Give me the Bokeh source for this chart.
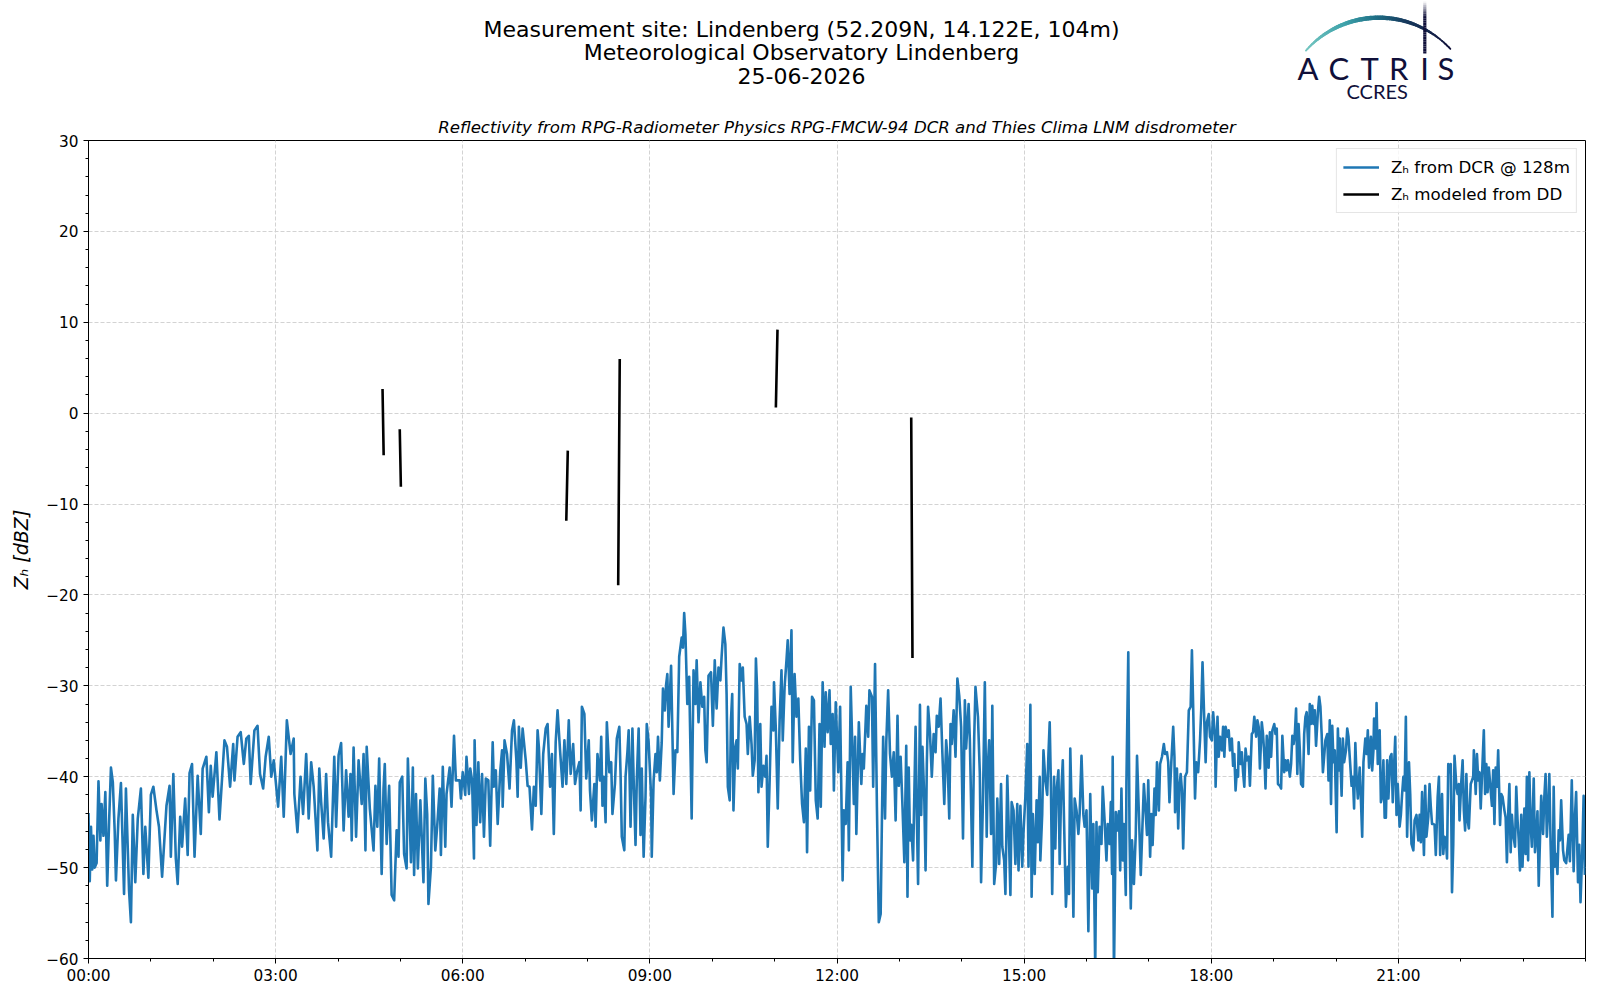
import math
from datetime import datetime, timedelta
import numpy as np
from bokeh.plotting import figure
from bokeh.models import (Range1d, FixedTicker, DatetimeTickFormatter, Legend,
                          LegendItem, ColumnDataSource)
from bokeh.layouts import column
from bokeh.embed import file_html
from bokeh.resources import INLINE
from bokeh.core.properties import value

# ---------------- data (hours after 00:00 UTC, dBZ) ----------------
TITLE_LINES = ["Measurement site: Lindenberg (52.209N, 14.122E, 104m)",
               "Meteorological Observatory Lindenberg",
               "25-06-2026"]
SUBTITLE = "Reflectivity from RPG-Radiometer Physics RPG-FMCW-94 DCR and Thies Clima LNM disdrometer"
LABEL_DCR = "Z\u2095 from DCR @ 128m"
LABEL_DD = "Z\u2095 modeled from DD"
Y_LABEL = "Z\u2095 [dBZ]"
X_TICK_HOURS = [0, 3, 6, 9, 12, 15, 18, 21]
Y_TICKS = [-60, -50, -40, -30, -20, -10, 0, 10, 20, 30]

dcr_hours = [
    0.00,0.02,0.04,0.06,0.08,0.10,0.13,0.16,0.19,0.21,
    0.24,0.27,0.30,0.33,0.36,0.39,0.42,0.44,0.48,0.52,
    0.57,0.60,0.65,0.68,0.71,0.75,0.79,0.84,0.88,0.91,
    0.96,1.00,1.04,1.09,1.13,1.18,1.25,1.30,1.32,1.36,
    1.40,1.43,1.47,1.50,1.55,1.59,1.62,1.66,1.70,1.75,
    1.80,1.83,1.89,1.93,1.96,1.99,2.05,2.10,2.18,2.22,
    2.27,2.32,2.34,2.39,2.44,2.49,2.53,2.57,2.60,2.66,
    2.71,2.75,2.80,2.84,2.89,2.93,2.97,3.04,3.09,3.13,
    3.18,3.24,3.29,3.30,3.35,3.40,3.44,3.49,3.53,3.57,
    3.61,3.67,3.70,3.73,3.77,3.81,3.84,3.89,3.94,3.97,
    4.01,
    4.05,4.09,4.13,4.17,4.20,4.22,4.25,4.29,4.33,4.38,
    4.41,4.44,4.46,4.51,4.57,4.60,4.63,4.66,4.70,4.73,
    4.75,4.78,4.82,4.86,4.90,4.94,4.97,4.99,5.03,5.06,
    5.10,5.12,5.17,5.20,5.22,5.25,5.28,5.32,5.37,5.40,
    5.43,5.45,5.49,5.52,5.56,5.59,5.63,5.65,5.68,5.72,
    5.74,5.79,5.82,5.86,5.89,5.95,5.97,6.00,6.04,6.06,
    6.10,6.12,6.15,6.18,6.19,6.22,6.25,6.28,6.31,6.34,
    6.37,6.41,6.44,6.48,6.50,6.53,6.56,6.60,6.63,6.64,
    6.67,6.71,6.75,6.79,6.82,6.86,6.88,6.90,6.93,6.96,
    7.01,7.04,7.07,7.11,7.14,7.17,7.20,7.22,7.26,7.29,
    7.33,7.36,7.40,7.43,7.46,7.49,7.52,7.56,7.60,7.63,
    7.66,7.70,7.73,7.77,7.80,7.83,7.87,7.89,7.91,7.95,
    7.98,8.02,8.04,
    8.07,8.11,8.13,8.16,8.20,8.22,8.24,8.26,8.29,8.31,
    8.35,8.38,8.40,8.44,8.47,8.51,8.53,8.55,8.59,8.61,
    8.64,8.66,8.69,8.72,8.74,8.77,8.79,8.82,8.85,8.87,
    8.90,8.93,8.95,8.98,9.02,9.03,9.06,9.09,9.11,9.13,
    9.16,9.19,9.21,9.24,9.26,9.28,9.30,9.34,9.38,9.41,
    9.44,9.47,9.51,9.53,9.55,9.57,9.60,9.63,9.67,9.70,
    9.73,9.75,9.78,9.81,9.84,9.87,9.89,9.91,9.94,9.98,
    10.01,10.04,10.07,10.10,10.13,10.15,10.18,10.21,10.23,10.25,
    10.28,10.30,10.32,10.34,10.37,10.39,10.41,10.44,10.47,10.49,
    10.52,10.55,10.57,10.60,10.63,10.65,10.68,10.70,10.72,10.74,
    10.77,10.79,10.82,10.85,10.87,10.89,10.92,10.95,10.98,10.99,
    11.02,11.05,11.08,11.11,11.13,11.16,11.19,11.21,11.24,11.27,
    11.29,11.32,11.35,11.38,11.41,11.44,11.47,11.50,11.52,11.55,
    11.57,11.60,11.63,11.66,11.69,11.72,11.74,11.77,11.80,11.82,
    11.85,11.88,11.90,11.93,11.95,11.98,12.02,
    12.05,12.09,12.11,12.14,12.17,12.19,12.22,12.25,12.27,12.29,
    12.31,12.35,12.39,12.41,12.43,12.47,12.50,12.52,12.56,12.58,
    12.61,12.64,12.67,12.70,12.72,12.74,12.77,12.79,12.82,12.85,
    12.88,12.91,12.94,12.97,12.99,13.02,13.05,13.08,13.11,13.13,
    13.15,13.17,13.19,13.22,13.26,13.28,13.30,13.33,13.35,13.37,
    13.40,13.42,13.44,13.46,13.49,13.52,13.55,13.58,13.60,13.63,
    13.66,13.69,13.72,13.75,13.77,13.80,13.82,13.84,13.87,13.90,
    13.93,13.96,13.99,14.02,14.05,14.07,14.11,14.13,14.17,14.20,
    14.22,14.26,14.29,14.31,14.34,14.37,14.40,14.42,14.44,14.47,
    14.49,14.52,14.55,14.57,14.60,14.63,14.65,14.68,14.70,14.73,
    14.75,14.78,14.80,14.83,14.86,14.89,14.91,14.94,14.97,14.99,
    15.02,15.05,15.07,15.10,15.12,15.14,15.17,15.20,15.22,15.25,
    15.26,15.29,15.31,15.34,15.37,15.39,15.41,15.43,15.45,15.48,
    15.50,15.52,15.55,15.57,15.59,15.62,15.64,15.67,15.70,15.72,
    15.74,15.77,15.79,15.81,15.84,15.87,15.89,15.92,15.95,15.97,
    16.00,16.03,
    16.06,16.09,16.11,16.14,16.16,16.18,16.21,16.24,16.26,16.29,
    16.32,16.34,16.37,16.39,16.41,16.42,16.44,16.47,16.50,16.52,
    16.54,16.56,16.58,16.60,16.63,16.64,16.67,16.69,16.71,16.73,
    16.76,16.79,16.81,16.84,16.87,16.90,16.92,16.95,16.97,16.99,
    17.02,17.04,17.06,17.09,17.11,17.13,17.16,17.18,17.21,17.24,
    17.26,17.29,17.31,17.33,17.36,17.39,17.41,17.42,17.45,17.47,
    17.49,17.51,17.53,17.55,17.58,17.61,17.64,17.67,17.69,17.71,
    17.74,17.76,17.79,17.82,17.84,17.86,17.89,17.91,17.93,17.96,
    17.98,18.01,18.03,18.06,18.07,18.10,18.12,18.14,18.17,18.19,
    18.21,18.23,18.26,18.28,18.30,18.33,18.35,18.37,18.39,18.41,
    18.43,18.44,18.47,18.49,18.51,18.53,18.55,18.57,18.60,18.62,
    18.65,18.67,18.69,18.72,18.74,18.76,18.78,18.81,18.83,18.85,
    18.87,18.89,18.92,18.94,18.96,18.98,19.01,19.03,19.05,19.07,
    19.10,19.12,19.14,19.17,19.19,19.21,19.23,19.26,19.28,19.30,
    19.32,19.34,19.36,19.38,19.40,19.42,19.44,19.47,19.49,19.51,
    19.53,19.56,19.58,19.60,19.62,19.64,19.66,19.68,19.71,19.73,
    19.75,19.77,19.79,19.81,19.83,19.86,19.88,19.90,19.92,19.94,
    19.96,19.98,20.01,
    20.03,20.05,20.06,20.09,20.11,20.13,20.16,20.18,20.20,20.22,
    20.25,20.27,20.29,20.31,20.33,20.35,20.38,20.40,20.42,20.44,
    20.47,20.49,20.51,20.53,20.56,20.58,20.60,20.61,20.64,20.65,
    20.67,20.70,20.72,20.74,20.76,20.78,20.80,20.82,20.84,20.87,
    20.89,20.91,20.93,20.95,20.97,20.99,21.02,21.04,21.06,21.08,
    21.10,21.12,21.14,21.17,21.19,21.21,21.24,21.26,21.29,21.32,
    21.34,21.36,21.38,21.41,21.43,21.45,21.48,21.50,21.52,21.54,
    21.56,21.58,21.60,21.63,21.65,21.67,21.70,21.72,21.74,21.76,
    21.78,21.80,21.82,21.84,21.86,21.88,21.90,21.93,21.95,21.97,
    21.98,22.01,22.03,22.05,22.07,22.09,22.11,22.13,22.16,22.18,
    22.20,22.21,22.24,22.26,22.28,22.30,22.32,22.34,22.37,22.39,
    22.41,22.43,22.45,22.48,22.50,22.52,22.54,22.56,22.58,22.60,
    22.63,22.65,22.67,22.70,22.72,22.74,22.76,22.78,22.80,22.82,
    22.84,22.87,22.89,22.91,22.93,22.95,22.97,22.99,23.02,23.04,
    23.06,23.08,23.10,23.12,23.14,23.17,23.19,23.21,23.23,23.25,
    23.27,23.29,23.32,23.34,23.36,23.38,23.40,23.42,23.44,23.47,
    23.49,23.51,23.53,23.55,23.57,23.59,23.61,23.64,23.66,23.69,
    23.73,23.75,23.78,23.81,23.83,23.85,23.88,23.90,23.92,23.95,
    23.97,23.99,
]

dcr_dbz = [
    -44.0,-51.5,-45.5,-50.2,-46.5,-50.0,-49.5,-40.5,-47.0,-43.0,
    -46.5,-41.7,-52.0,-45.0,-39.0,-40.6,-46.0,-51.4,-44.6,-40.7,
    -52.9,-41.3,-52.5,-56.0,-44.2,-51.6,-44.6,-41.3,-50.7,-45.5,
    -51.1,-42.0,-41.1,-43.7,-45.5,-51.0,-43.2,-41.0,-48.8,-39.7,
    -49.0,-51.8,-44.4,-47.7,-42.4,-48.6,-39.6,-38.6,-48.8,-39.9,
    -46.3,-39.1,-37.8,-43.9,-38.8,-42.2,-37.3,-44.7,-36.0,-36.7,
    -41.1,-36.4,-40.4,-35.6,-35.1,-38.6,-35.8,-35.5,-40.8,-34.9,
    -34.4,-39.7,-41.3,-37.8,-35.6,-40.0,-38.2,-43.3,-37.8,-44.4,
    -33.8,-37.5,-35.8,-41.9,-46.1,-40.0,-44.1,-37.5,-44.6,-38.4,
    -41.1,-48.1,-39.1,-42.8,-46.8,-39.7,-45.0,-48.8,-37.8,-45.5,
    -37.6,
    -36.3,-45.9,-39.3,-44.4,-39.7,-47.0,-36.8,-46.6,-38.2,-43.0,
    -37.5,-48.1,-36.7,-43.5,-48.1,-41.0,-45.5,-38.0,-50.7,-41.3,
    -38.6,-47.4,-41.0,-53.0,-53.6,-45.9,-48.8,-40.6,-40.0,-48.5,
    -50.1,-38.0,-49.4,-39.0,-50.8,-41.9,-50.1,-42.6,-51.6,-40.2,
    -44.1,-54.0,-49.9,-39.9,-48.1,-45.5,-41.3,-48.6,-38.9,-47.7,
    -41.9,-39.0,-43.3,-35.5,-40.4,-40.4,-42.4,-39.5,-42.0,-37.8,
    -41.9,-39.1,-40.4,-49.0,-36.0,-45.3,-38.4,-45.0,-39.7,-46.6,
    -40.2,-40.4,-47.6,-36.2,-41.1,-39.3,-45.2,-39.5,-37.1,-43.3,
    -36.0,-37.5,-41.3,-34.9,-33.8,-38.2,-42.2,-34.5,-39.0,-34.7,
    -38.2,-41.0,-41.1,-45.8,-41.1,-43.2,-34.9,-36.7,-44.1,-37.5,
    -34.7,-34.2,-41.1,-37.5,-46.3,-36.2,-32.7,-37.1,-41.1,-36.0,
    -40.8,-33.8,-39.7,-36.4,-40.8,-39.5,-38.4,-43.7,-32.3,-33.1,
    -40.2,-36.0,-41.5,
    -44.8,-40.8,-45.5,-37.5,-40.4,-35.6,-43.2,-40.0,-45.0,-34.0,
    -39.5,-38.4,-44.1,-40.8,-35.8,-34.5,-39.7,-46.6,-48.1,-40.0,
    -37.3,-34.9,-45.5,-34.7,-40.4,-47.5,-40.4,-34.7,-46.4,-39.1,
    -48.8,-42.2,-34.2,-36.2,-42.2,-48.8,-40.4,-37.5,-39.5,-35.6,
    -40.4,-36.2,-30.3,-32.7,-29.9,-28.7,-34.5,-27.8,-41.9,-37.1,
    -37.3,-26.8,-24.7,-25.8,-22.0,-24.3,-32.0,-29.0,-44.6,-28.3,
    -32.0,-27.2,-34.0,-29.6,-32.3,-31.2,-37.1,-38.4,-28.9,-28.5,
    -34.4,-27.2,-32.5,-28.0,-29.4,-26.8,-23.6,-25.4,-30.9,-41.1,
    -42.6,-33.8,-30.9,-43.7,-36.7,-36.0,-39.1,-27.6,-29.4,-28.0,
    -33.4,-34.2,-37.5,-33.4,-36.4,-39.9,-38.2,-27.0,-30.5,-41.7,
    -34.2,-41.1,-38.8,-40.0,-37.7,-47.7,-40.4,-32.3,-34.9,-29.6,
    -34.9,-43.5,-33.8,-28.3,-36.0,-30.1,-27.2,-25.0,-30.9,-23.9,
    -38.4,-28.7,-33.4,-31.4,-38.2,-43.0,-45.0,-36.9,-48.3,-34.5,
    -41.5,-31.2,-31.6,-42.6,-44.6,-34.2,-43.3,-29.6,-36.7,-30.7,
    -35.1,-30.5,-36.4,-33.1,-41.5,-31.8,-39.5,
    -32.3,-51.4,-43.7,-45.2,-38.4,-48.1,-30.1,-37.8,-43.0,-35.6,
    -46.3,-34.0,-40.8,-37.5,-39.1,-32.2,-35.6,-30.5,-31.2,-41.1,
    -27.6,-43.3,-56.0,-55.1,-44.8,-35.6,-44.6,-36.2,-30.5,-37.5,
    -40.0,-37.3,-44.8,-33.3,-41.0,-37.8,-43.3,-49.4,-36.6,-53.2,
    -39.0,-47.0,-45.3,-49.2,-34.5,-44.4,-51.8,-32.1,-44.2,-36.7,
    -42.6,-50.3,-38.6,-32.3,-35.1,-40.0,-35.3,-37.3,-33.3,-34.5,
    -31.4,-37.5,-43.0,-36.0,-37.8,-44.6,-34.2,-36.4,-32.7,-37.8,
    -29.2,-31.1,-34.5,-46.8,-31.6,-36.9,-32.0,-36.0,-49.9,-35.6,
    -30.1,-33.4,-39.7,-51.6,-42.6,-29.6,-46.6,-38.6,-36.0,-46.3,
    -32.2,-51.8,-49.6,-42.4,-49.6,-40.8,-47.7,-49.2,-52.9,-39.9,
    -44.8,-53.0,-42.8,-43.7,-49.6,-43.0,-50.3,-43.2,-49.9,-46.1,
    -42.2,-36.4,-49.9,-32.1,-53.2,-44.1,-50.7,-42.6,-47.2,-40.0,
    -49.2,-44.1,-37.1,-40.4,-42.0,-37.5,-34.0,-41.1,-52.9,-40.0,
    -47.9,-41.5,-39.3,-49.6,-42.6,-38.2,-44.8,-54.3,-49.9,-52.9,
    -36.9,-46.3,-55.4,-42.4,-43.7,-46.3,-44.1,-37.7,-44.2,-45.5,
    -43.7,-57.0,
    -41.9,-52.3,-45.2,-61.0,-45.0,-52.7,-45.5,-47.4,-41.1,-44.8,
    -49.2,-45.2,-47.4,-42.8,-50.7,-37.8,-62.0,-43.9,-45.9,-43.8,
    -50.3,-41.3,-49.2,-45.2,-53.0,-40.6,-26.3,-46.6,-54.5,-47.0,
    -51.8,-46.3,-37.7,-44.1,-50.8,-44.8,-40.8,-44.1,-46.4,-40.4,
    -48.8,-44.1,-47.5,-41.3,-44.2,-38.4,-43.7,-38.6,-37.8,-36.4,
    -37.5,-37.3,-38.4,-42.8,-38.4,-34.5,-37.8,-43.9,-39.1,-45.7,
    -41.1,-39.7,-41.5,-47.9,-40.0,-39.5,-32.7,-32.3,-26.1,-32.3,
    -42.4,-38.4,-39.5,-36.0,-32.5,-27.4,-34.2,-38.4,-34.0,-33.1,
    -35.6,-36.0,-32.9,-35.5,-41.1,-33.4,-37.8,-35.6,-37.1,-34.5,
    -37.8,-34.5,-35.6,-34.9,-37.1,-35.8,-38.8,-37.5,-41.5,-39.3,
    -40.0,-36.2,-38.6,-37.3,-39.5,-41.1,-36.9,-38.2,-37.8,-41.0,
    -35.3,-35.1,-33.4,-35.6,-33.8,-34.5,-39.1,-34.0,-35.3,-37.5,
    -41.3,-35.5,-39.0,-35.1,-37.8,-34.9,-34.2,-35.3,-34.7,-40.8,
    -41.0,-41.3,-35.5,-39.5,-38.2,-39.3,-38.2,-40.0,-38.6,-35.5,
    -36.4,-35.3,-32.5,-39.7,-34.2,-37.1,-40.8,-41.1,-35.3,-33.4,
    -32.9,-37.5,-32.0,-34.2,-32.2,-34.2,-32.7,-36.6,-32.9,-31.2,
    -32.3,-35.3,-39.5,-37.8,-36.0,-35.3,-40.4,-33.8,-43.0,-34.4,
    -38.4,-37.1,-46.1,
    -34.7,-39.3,-35.8,-42.1,-35.8,-38.4,-37.1,-34.7,-35.6,-37.8,
    -41.0,-40.0,-43.5,-36.3,-40.0,-42.4,-39.0,-42.6,-46.6,-38.4,
    -35.8,-37.5,-34.9,-39.0,-35.6,-39.3,-37.1,-33.6,-36.9,-31.9,
    -38.6,-34.9,-42.8,-42.2,-38.2,-44.5,-44.5,-38.2,-42.4,-37.8,
    -37.5,-42.8,-39.0,-35.6,-44.2,-40.8,-45.5,-44.2,-41.9,-40.0,
    -41.5,-33.4,-46.6,-38.4,-41.9,-47.4,-48.1,-44.8,-44.2,-47.0,
    -44.2,-47.2,-41.7,-48.6,-41.0,-46.6,-44.4,-40.8,-43.3,-45.2,
    -45.2,-45.3,-48.6,-42.2,-40.0,-48.6,-41.9,-48.5,-46.6,-46.8,
    -49.0,-38.6,-39.5,-38.6,-52.7,-47.4,-37.7,-41.1,-41.9,-40.8,
    -44.8,-40.4,-38.2,-43.7,-45.9,-39.7,-44.8,-45.7,-40.8,-40.4,
    -40.0,-37.1,-41.9,-37.5,-40.4,-39.5,-43.5,-40.0,-34.9,-41.9,
    -38.6,-41.7,-39.0,-41.5,-43.2,-39.3,-45.2,-39.0,-41.1,-37.1,
    -45.3,-41.9,-42.2,-43.7,-44.5,-49.4,-44.2,-40.8,-48.3,-44.2,
    -46.3,-47.7,-41.1,-44.7,-47.0,-50.3,-44.2,-49.9,-43.5,-48.5,
    -40.0,-49.2,-39.5,-45.2,-47.7,-40.2,-48.3,-46.6,-43.8,-52.0,
    -47.0,-42.1,-46.3,-42.2,-39.7,-46.6,-43.8,-39.7,-47.2,-55.4,
    -41.1,-49.9,-48.5,-50.7,-45.9,-47.0,-42.6,-48.1,-49.2,-49.5,
    -46.4,-49.3,-40.4,-50.4,-44.5,-41.7,-51.6,-47.5,-53.8,-47.8,
    -42.1,-50.8,
]

# disdrometer-modelled reflectivity: pairs of (start, end) points per rain event
dd_hours = [4.714, 4.732, 4.990, 5.008, 7.660, 7.684, 8.492, 8.517, 11.020, 11.046, 13.190, 13.210]
dd_dbz = [2.65, -4.63, -1.76, -8.09, -11.84, -4.12, -18.93, 5.96, 0.63, 9.19, -0.48, -26.95]

# ---------------- helpers ----------------
BASE = datetime(2026, 6, 25)
EPOCH = datetime(1970, 1, 1)


def to_dt(h):
    return BASE + timedelta(hours=h)


def to_ms(h):
    return (to_dt(h) - EPOCH).total_seconds() * 1000.0


n = min(len(dcr_hours), len(dcr_dbz))
dcr_src = ColumnDataSource(dict(t=[to_dt(h) for h in dcr_hours[:n]], z=dcr_dbz[:n]))

dd_t, dd_z = [], []
for i in range(0, len(dd_hours), 2):
    dd_t += [to_dt(dd_hours[i]), to_dt(dd_hours[i + 1]), to_dt(dd_hours[i + 1])]
    dd_z += [dd_dbz[i], dd_dbz[i + 1], np.nan]
dd_src = ColumnDataSource(dict(t=dd_t, z=np.array(dd_z, dtype=float)))

FONT = "DejaVu Sans"
W = 1592
HH = 110
HM = 992 - HH
FRAME_L, FRAME_R = 88, W - 7   # the column aligns the header frame with the plot frame

# ---------------- header (suptitle + logo), coordinates in page pixels ----------------
hdr = figure(width=W, height=HH, x_range=Range1d(FRAME_L, FRAME_R), y_range=Range1d(HH, 0),
             output_backend="svg", toolbar_location=None,
             x_axis_location=None, y_axis_location=None, min_border=0)
hdr.grid.visible = False
hdr.outline_line_color = None
hdr.background_fill_color = "white"
hdr.border_fill_color = "white"

hdr.text(x=[801, 801, 801], y=[29.3, 52.0, 75.3], text=TITLE_LINES,
         text_align="center", text_baseline="middle",
         text_font=value(FONT), text_font_size="22px", text_color="black")

NAVY = "#10103a"
# logo arc with colour gradient
cx, cy, R = 1378.4, 114.6, 97.4
a0, a1 = math.radians(138.5), math.radians(42.8)
stops = [(0.0, (120, 200, 194)), (0.3, (63, 163, 171)), (0.5, (31, 111, 134)),
         (0.68, (24, 58, 94)), (1.0, (18, 18, 58))]


def grad(t):
    for (t0, c0), (t1, c1) in zip(stops[:-1], stops[1:]):
        if t <= t1:
            f = (t - t0) / (t1 - t0)
            return "#%02x%02x%02x" % tuple(int(c0[k] + f * (c1[k] - c0[k])) for k in range(3))
    return "#%02x%02x%02x" % stops[-1][1]


N = 70
axs, ays, acol, awid = [], [], [], []
for k in range(N):
    ta, tb = k / N, (k + 1) / N
    aa = a0 + (a1 - a0) * ta
    ab = a0 + (a1 - a0) * tb
    axs.append([cx + R * math.cos(aa), cx + R * math.cos(ab)])
    ays.append([cy - R * math.sin(aa), cy - R * math.sin(ab)])
    tm = (ta + tb) / 2
    acol.append(grad(tm))
    awid.append(1.8 + 2.6 * math.sin(math.pi * min(1.0, tm * 1.1)))
hdr.multi_line(xs="xs", ys="ys", line_color="c", line_width="w", line_cap="round",
               source=ColumnDataSource(dict(xs=axs, ys=ays, c=acol, w=awid)))

# vertical stroke of the "I", fading out at the top
vx = 1424.3
vys, vxs, valpha = [], [], []
y_top, y_bot = 1.0, 53.0
M = 30
for k in range(M):
    ya = y_top + (y_bot - y_top) * k / M
    yb = y_top + (y_bot - y_top) * (k + 1) / M
    vxs.append([vx, vx])
    vys.append([ya, yb])
    valpha.append(min(1.0, (k + 0.5) / 9.0))
hdr.multi_line(xs="xs", ys="ys", line_color=NAVY, line_width=3.2, line_alpha="a",
               source=ColumnDataSource(dict(xs=vxs, ys=vys, a=valpha)))

hdr.text(x=[1307.5, 1338.3, 1369.2, 1398.3, 1424.2, 1445.3], y=[67.0] * 6,
         text=list("ACTRIS"), text_align="center", text_baseline="alphabetic",
         text_font=value("Lato"), text_font_size="31px", text_color=NAVY)
hdr.text(x=[1376.7], y=[90.5], text=["CCRES"], text_align="center",
         text_baseline="alphabetic", text_font=value("Lato"),
         text_font_size="20px", text_color=NAVY)

# ---------------- main plot ----------------
p = figure(width=W, height=HM, x_axis_type="datetime",
           x_range=Range1d(to_dt(0), to_dt(24)), y_range=Range1d(-60, 30),
           output_backend="svg", toolbar_location=None,
           min_border_left=FRAME_L, min_border_right=W - FRAME_R, min_border_bottom=34,
           min_border_top=30)
p.background_fill_color = "white"
p.border_fill_color = "white"
p.outline_line_color = "black"
p.outline_line_width = 1
p.outline_line_alpha = 1.0

p.title.text = SUBTITLE
p.title.align = "center"
p.title.text_font = FONT
p.title.text_font_style = "italic"
p.title.text_font_size = "16.6px"
p.title.text_color = "black"
p.title.standoff = 7

p.xaxis.ticker = FixedTicker(ticks=[to_ms(h) for h in X_TICK_HOURS],
                             minor_ticks=[to_ms(h) for h in range(0, 25)])
p.xaxis.formatter = DatetimeTickFormatter(hours="%H:%M", days="%H:%M", hourmin="%H:%M",
                                          minutes="%H:%M", months="%H:%M")
p.yaxis.ticker = FixedTicker(ticks=Y_TICKS, minor_ticks=list(range(-60, 31, 2)))

for ax in (p.xaxis[0], p.yaxis[0]):
    ax.axis_line_color = "black"
    ax.major_tick_line_color = "black"
    ax.minor_tick_line_color = "black"
    ax.major_tick_out = 5
    ax.major_tick_in = 0
    ax.minor_tick_out = 3
    ax.minor_tick_in = 0
    ax.major_label_text_font = FONT
    ax.major_label_text_font_size = "15.3px"
    ax.major_label_text_color = "black"
p.xaxis.major_label_standoff = 3
p.yaxis.major_label_standoff = 5
p.yaxis.axis_label = Y_LABEL
p.yaxis.axis_label_text_font = FONT
p.yaxis.axis_label_text_font_size = "19px"
p.yaxis.axis_label_text_font_style = "italic"
p.yaxis.axis_label_text_color = "black"
p.yaxis.axis_label_standoff = 11

p.xgrid.ticker = p.xaxis.ticker
p.ygrid.ticker = p.yaxis.ticker
for g in (p.xgrid[0], p.ygrid[0]):
    g.grid_line_color = "#d3d3d3"
    g.grid_line_dash = "4 2"
    g.grid_line_width = 1

r_dcr = p.line(x="t", y="z", source=dcr_src, line_color="#1f77b4",
               line_width=2.6, line_join="round")
r_dd = p.line(x="t", y="z", source=dd_src, line_color="black", line_width=2.6)

legend = Legend(items=[LegendItem(label=LABEL_DCR, renderers=[r_dcr]),
                       LegendItem(label=LABEL_DD, renderers=[r_dd])],
                location="top_right", margin=8, padding=6, spacing=3,
                glyph_width=36, glyph_height=24, label_height=24, label_standoff=12,
                label_text_font=FONT, label_text_font_size="16.7px",
                label_text_color="black",
                border_line_color="#cccccc", border_line_width=1,
                background_fill_color="white", background_fill_alpha=0.8)
p.add_layout(legend)

layout = column(hdr, p, spacing=0)
open("out.html", "w").write(file_html(layout, INLINE))
